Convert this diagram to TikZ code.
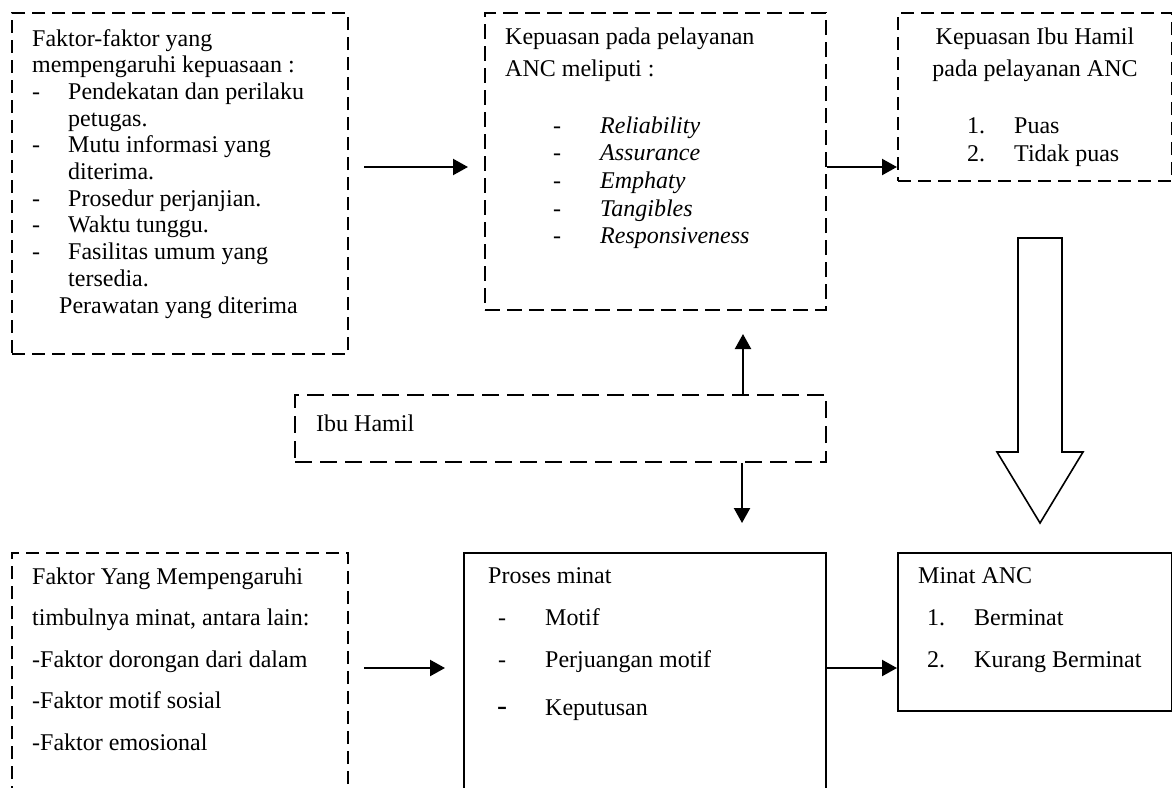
\documentclass[tikz,border=0pt]{standalone}
\usepackage{fontspec}
\setmainfont{Liberation Serif}
\usetikzlibrary{arrows.meta,calc}
\tikzset{
 box/.style={draw, line width=2pt, inner sep=0pt, anchor=north west, rectangle},
 dbox/.style={box, dash pattern=on 13pt off 7pt},
 txt/.style={anchor=base west, inner sep=0pt, font=\fontsize{24}{27}\selectfont},
 ctxt/.style={txt, anchor=base},
 itxt/.style={txt, font=\fontsize{24}{27}\selectfont\itshape},
 arr/.style={line width=2.2pt, -{Triangle[length=15pt,width=16pt]}},
 hollow/.style={draw, line width=1.6pt, fill=white, line join=miter}
}
\begin{document}
\begin{tikzpicture}[x=1pt,y=-1pt]
\useasboundingbox (0,0) rectangle (1172,787);
\clip (0,0) rectangle (1172,787);

% boxes
\node[dbox, minimum width=336pt, minimum height=341pt] (tl) at (11,12) {};
\node[dbox, dash pattern=on 15pt off 7pt, minimum width=341pt, minimum height=297pt] (tm) at (484,12) {};
\node[dbox, minimum width=274pt, minimum height=168pt] (tr) at (897,12) {};
\node[dbox, dash pattern=on 17pt off 8pt, minimum width=531pt, minimum height=67pt] (ibu) at (294,394) {};
\node[dbox, minimum width=336pt, minimum height=255pt] (bl) at (11,552) {};
\node[box, minimum width=362pt, minimum height=255pt] (pm) at (463,552) {};
\node[box, minimum width=274pt, minimum height=158pt] (ma) at (897,552) {};

% top-left text
\node[txt] (tl1) at (32,46) {Faktor-faktor yang};
\node[txt] (tl2) at (32,72.7) {mempengaruhi kepuasaan :};
\node[txt] (tl3d) at (32,99.4) {-};
\node[txt] (tl3) at (68,99.4) {Pendekatan dan perilaku};
\node[txt] (tl4) at (68,126) {petugas.};
\node[txt] (tl5d) at (32,152.8) {-};
\node[txt] (tl5) at (68,152.8) {Mutu informasi yang};
\node[txt] (tl6) at (68,179.5) {diterima.};
\node[txt] (tl7d) at (32,206.2) {-};
\node[txt] (tl7) at (68,206.2) {Prosedur perjanjian.};
\node[txt] (tl8d) at (32,232.9) {-};
\node[txt] (tl8) at (68,232.9) {Waktu tunggu.};
\node[txt] (tl9d) at (32,259.6) {-};
\node[txt] (tl9) at (68,259.6) {Fasilitas umum yang};
\node[txt] (tl10) at (68,286.3) {tersedia.};
\node[txt] (tl11) at (59,313) {Perawatan yang diterima};

% top-middle text
\node[txt] (tm1) at (505,44) {Kepuasan pada pelayanan};
\node[txt] (tm2) at (505,76) {ANC meliputi :};
\node[txt] (tm3d) at (553,133) {-};
\node[itxt] (tm3) at (600,133) {Reliability};
\node[txt] (tm4d) at (553,160.7) {-};
\node[itxt] (tm4) at (600,160.7) {Assurance};
\node[txt] (tm5d) at (553,188.4) {-};
\node[itxt] (tm5) at (600,188.4) {Emphaty};
\node[txt] (tm6d) at (553,216.1) {-};
\node[itxt] (tm6) at (600,216.1) {Tangibles};
\node[txt] (tm7d) at (553,243.8) {-};
\node[itxt] (tm7) at (600,243.8) {Responsiveness};

% top-right text
\node[ctxt] (tr1) at (1035,44) {Kepuasan Ibu Hamil};
\node[ctxt] (tr2) at (1035,76) {pada pelayanan ANC};
\node[txt] (tr3n) at (967,133) {1.};
\node[txt] (tr3) at (1014,133) {Puas};
\node[txt] (tr4n) at (967,161) {2.};
\node[txt] (tr4) at (1014,161) {Tidak puas};

% Ibu Hamil
\node[txt] (ibut) at (316,431) {Ibu Hamil};

% bottom-left text
\node[txt] (bl1) at (32,584) {Faktor Yang Mempengaruhi};
\node[txt] (bl2) at (32,625.5) {timbulnya minat, antara lain:};
\node[txt] (bl3) at (32,667) {-Faktor dorongan dari dalam};
\node[txt] (bl4) at (32,708.5) {-Faktor motif sosial};
\node[txt] (bl5) at (32,750) {-Faktor emosional};

% proses minat text
\node[txt] (pm1) at (488,583) {Proses minat};
\node[txt] (pm2d) at (498,625) {-};
\node[txt] (pm2) at (545,625) {Motif};
\node[txt] (pm3d) at (498,667) {-};
\node[txt] (pm3) at (545,667) {Perjuangan motif};
\node[txt, font=\fontsize{30}{30}\selectfont] (pm4d) at (497,715) {-};
\node[txt] (pm4) at (545,715) {Keputusan};

% minat ANC text
\node[txt] (ma1) at (918,583) {Minat ANC};
\node[txt] (ma2n) at (927,625) {1.};
\node[txt] (ma2) at (974,625) {Berminat};
\node[txt] (ma3n) at (927,667) {2.};
\node[txt] (ma3) at (974,667) {Kurang Berminat};

% connectors
\coordinate (a1s) at ([yshift=16.5pt]tl.east);
\draw[arr, shorten <=15pt, shorten >=16pt] (a1s) -- (a1s -| tm.west);
\coordinate (a2s) at ([yshift=-5.5pt]tm.east);
\draw[arr] (a2s) -- (a2s -| tr.west);
\coordinate (a3s) at ([yshift=12.5pt]bl.east);
\draw[arr, shorten <=15pt, shorten >=18pt] (a3s) -- (a3s -| pm.west);
\coordinate (a4s) at ([yshift=12.5pt]pm.east);
\draw[arr] (a4s) -- (a4s -| ma.west);
\coordinate (us) at ([xshift=182.5pt]ibu.north);
\draw[arr, shorten >=23pt] (us) -- (us |- tm.south);
\coordinate (ds) at ([xshift=181.5pt]ibu.south);
\draw[arr, shorten >=29pt] (ds) -- (ds |- pm.north);

% big hollow arrow from tr to ma
\draw[hollow] (1018,238) -- (1062,238) -- (1062,452) -- (1083,452) -- (1040,523) -- (997,452) -- (1018,452) -- cycle;
\end{tikzpicture}
\end{document}
